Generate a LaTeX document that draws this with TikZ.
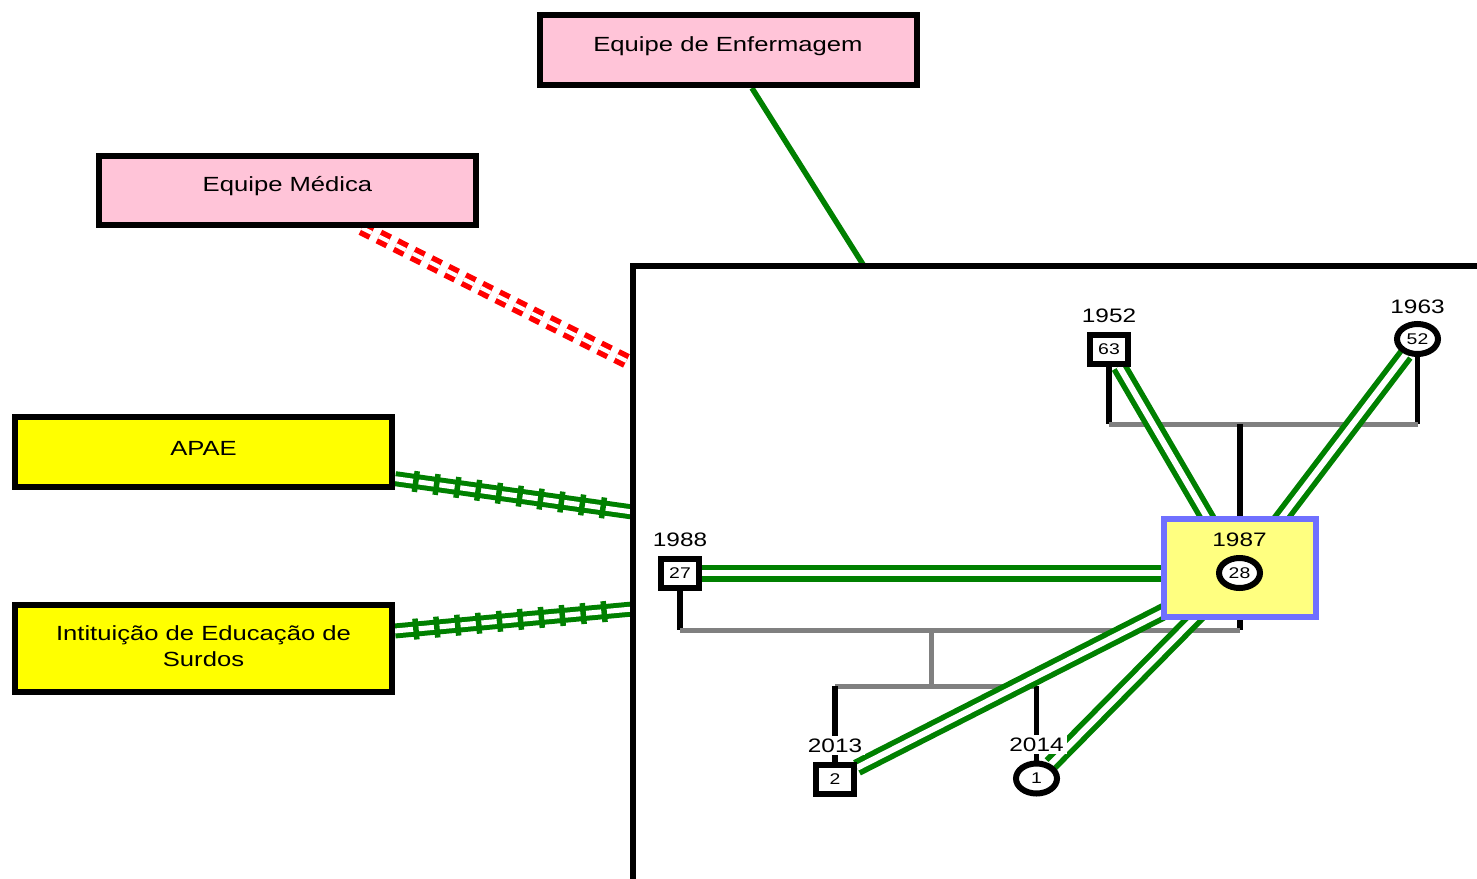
\documentclass[tikz,border=0pt]{standalone}
\usepackage{fontspec}
\setmainfont{Liberation Sans}[FakeStretch=1.25]
\usetikzlibrary{shapes.geometric,decorations.markings}
\definecolor{grn}{RGB}{0,128,0}
\definecolor{pinkf}{RGB}{255,196,216}
\definecolor{ylw}{RGB}{255,255,0}
\definecolor{lylw}{RGB}{255,255,128}
\definecolor{blu}{RGB}{112,112,255}
\definecolor{gry}{RGB}{128,128,128}
\pgfdeclarelayer{bg}
\pgfsetlayers{bg,main}
\begin{document}
\begin{tikzpicture}[x=1pt,y=-1pt,
  box/.style={draw=black, line width=6pt, rectangle, inner sep=0pt, minimum width=377pt},
  pinkbox/.style={box, fill=pinkf},
  ylwbox/.style={box, fill=ylw},
  btxt/.style={font=\fontsize{20.5}{26}\selectfont, align=center, yshift=4pt},
  person/.style={draw=black, fill=white, line width=6pt, inner sep=0pt, font=\fontsize{15.5}{17}\selectfont},
  male/.style={person, rectangle, minimum width=38pt, minimum height=29pt},
  female/.style={person, ellipse, minimum width=41pt, minimum height=30pt},
  yr/.style={font=\fontsize{19.5}{22}\selectfont, inner sep=0pt, label distance=9pt},
  yrw/.style={font=\fontsize{19.5}{22}\selectfont, inner sep=3pt, fill=white, label distance=6pt},
  kin/.style={draw=black, line width=5.5pt},
  gline/.style={draw=gry, line width=5pt},
  rel/.style={draw=grn, line width=5.5pt, double=white, double distance=6pt},
  single/.style={draw=grn, line width=5.5pt},
  reddash/.style={draw=red, line width=5.5pt, double=white, double distance=4pt, dash pattern=on 11pt off 8pt},
  rail/.style={draw=grn, line width=5pt, double=white, double distance=5pt,
    postaction={decorate},
    decoration={markings, mark=between positions 21pt and 216pt step 21pt with {\draw[draw=grn, line width=5.5pt] (0pt,-10.5pt) -- (0pt,10.5pt);}}},
  frame/.style={draw=black, line width=6pt}
]
\useasboundingbox (0,0) rectangle (1477,878);

% boxes
\node[pinkbox, minimum height=70pt, label={[btxt]center:Equipe de Enfermagem}] (enf) at (728,50) {};
\node[pinkbox, minimum height=69pt, label={[btxt]center:Equipe Médica}] (med) at (287.5,190.5) {};
\node[ylwbox, minimum height=70pt, label={[btxt]center:APAE}] (apae) at (203.5,452) {};
\node[ylwbox, minimum height=87pt, label={[btxt, yshift=-2pt]center:Intituição de Educação de\\Surdos}] (inst) at (203.5,648.5) {};

% frame
\draw[frame] (632.5,900) -- (632.5,266) -- (1500,266);
\coordinate (fEnf) at (864,266);
\coordinate (fMed) at (632.5,364);
\coordinate (fAp) at (632.5,512);
\coordinate (fInst) at (632.5,609);

% genogram
\node[male, label={[yr]above:1952}] (p63) at (1109,349) {63};
\node[female, label={[yr, label distance=7pt]above:1963}] (p52) at (1417.5,339) {52};
\node[draw=blu, fill=lylw, line width=6pt, rectangle, minimum width=152pt, minimum height=98pt, inner sep=0pt] (b87) at (1240,568) {};
\node[female, label={[yr, label distance=8pt]above:1987}] (p28) at (1239.5,573) {28};
\node[male, label={[yr]above:1988}] (p27) at (680,573) {27};
\node[male, label={[yrw]above:2013}] (p2) at (835,779) {2};
\node[female, label={[yrw]above:2014}] (p1) at (1036.5,778.5) {1};

\coordinate (m1) at (1240,424);
\coordinate (m2) at (931,630);
\coordinate (m3) at (931,686);

\begin{pgfonlayer}{bg}
  % connectors to the frame
  \draw[single] (enf) -- (fEnf);
  \draw[reddash] (med) -- (fMed);
  \draw[rail] (apae) -- (fAp);
  \draw[rail] (inst) -- (fInst);
  % kinship lines
  \draw[kin] (p63.south) -- (p63.south |- m1);
  \draw[kin] (p52.south) -- (p52.south |- m1);
  \draw[gline] (p63.south |- m1) -- (p52.south |- m1);
  \draw[kin] (m1) -- (b87.north);
  \draw[kin] (b87.south) -- (b87.south |- m2);
  \draw[kin] (p27.south) -- (p27.south |- m2);
  \draw[gline] (p27.south |- m2) -- (b87.south |- m2);
  \draw[gline] (m2) -- (m3);
  \draw[gline] (p2.north |- m3) -- (p1.north |- m3);
  \draw[kin] (p2.north |- m3) -- (p2.north);
  \draw[kin] (p1.north |- m3) -- (p1.north);
  % relationship lines
  \draw[rel] (p28) -- (p63);
  \draw[rel] (p28) -- (p52);
  \draw[rel] (p28) -- (p27);
  \draw[rel] (p28) -- (p2);
  \draw[rel] (p28) -- (p1);
\end{pgfonlayer}
\end{tikzpicture}
\end{document}
